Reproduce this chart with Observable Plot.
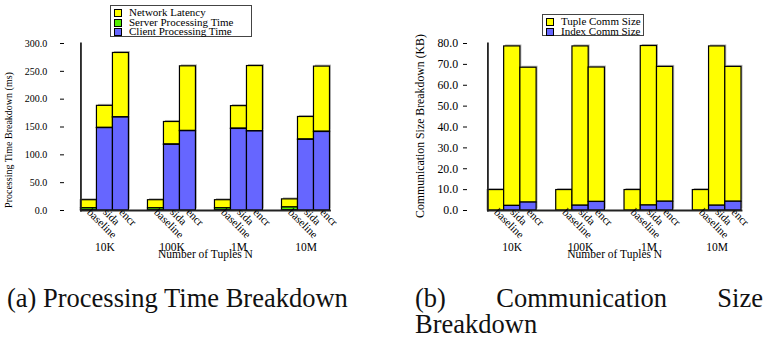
<!DOCTYPE html>
<html><head><meta charset="utf-8">
<script src="https://cdn.jsdelivr.net/npm/d3@7"></script>
<script src="https://cdn.jsdelivr.net/npm/@observablehq/plot@0.6"></script>
<style>
body{margin:0;background:#fff;font-family:"Liberation Serif","DejaVu Serif",serif;}
#wrap{position:relative;width:767px;height:338px;overflow:hidden;background:#fff;}
.panel{position:absolute;top:0;}
.legend{position:absolute;border:1px solid #444;background:#fff;font-size:11px;line-height:9.7px;color:#000;box-sizing:border-box;padding:2px 0 0 3px;}
.legend .row{display:flex;align-items:center;white-space:nowrap;height:9.7px}
.legend .sw{width:6px;height:6px;border:1px solid #000;margin-right:7px;flex:none}
.ylab{position:absolute;white-space:nowrap;color:#000;transform:translate(-50%,-50%) rotate(-90deg);line-height:1;}
.cap{position:absolute;font-size:26.5px;line-height:26px;color:#111;white-space:nowrap;}
.cap .line{display:flex;justify-content:space-between;height:26px;}
</style></head><body><div id="wrap"></div>
<script>
const groups = ["10K", "100K", "1M", "10M"];
const methods = ["baseline", "sida", "encr"];

// (a) processing time (ms), rows = groups, columns = methods
const timeSeries = ["Network Latency", "Server Processing Time", "Client Processing Time"];
const timeColors = ["#ffff00", "#55ee00", "#6666ff"];
const clientTime = [[0.5, 148, 167], [0.5, 118, 142.5], [0.5, 146.5, 142], [0.5, 127, 141]];
const serverTime = [[3.5, 0.4, 0.4], [3.5, 0.4, 0.4], [3.5, 0.4, 0.4], [5, 0.4, 0.4]];
const networkTime = [[14.5, 39.6, 115.6], [14.5, 40.6, 116.1], [14.5, 40.6, 117.1], [14.5, 40.6, 117.1]];
const timeTicks = [0, 50, 100, 150, 200, 250, 300];

// (b) communication size (KB)
const sizeSeries = ["Tuple Comm Size", "Index Comm Size"];
const sizeColors = ["#ffff00", "#6666ff"];
const indexSize = [[0, 2.2, 3.8], [0, 2.3, 4.1], [0, 2.4, 4.2], [0, 2.3, 4.2]];
const tupleSize = [[9.8, 76.4, 64.6], [9.8, 76.3, 64.4], [9.8, 76.4, 64.6], [9.8, 76.3, 64.6]];
const sizeTicks = [0, 10, 20, 30, 40, 50, 60, 70, 80];

const xTitle = "Number of Tuples N";
const captionA = [["(a) Processing Time Breakdown"]];
const captionB = [["(b)", "Communication", "Size"], ["Breakdown"]];
const serif = '"Liberation Serif", "DejaVu Serif", serif';

function tidy(names, arrays) {
  const rows = [];
  groups.forEach((g, i) => methods.forEach((m, j) => names.forEach((s, k) =>
    rows.push({group: g, method: m, series: s, value: arrays[k][i][j]}))));
  return rows;
}

function chart(o) {
  const stack = (extra) => Plot.stackY({fx: "group", x: "method", y: "value", z: "series", order: o.order, ...extra});
  // offset of the first facet band from the left edge of the frame (same math as the band scale)
  const range = o.width - o.marginLeft - o.marginRight;
  const n = groups.length;
  const step = range / (n - o.padIn + 2 * o.padOut);
  const firstBand = (range - step * (n - o.padIn)) * o.align;
  return Plot.plot({
    width: o.width, height: 265,
    marginLeft: o.marginLeft, marginRight: o.marginRight, marginTop: 43, marginBottom: 55,
    style: {fontFamily: serif, fontSize: "11px", color: "#000", background: "transparent", overflow: "visible"},
    fx: {domain: groups, paddingInner: o.padIn, paddingOuter: o.padOut, align: o.align, round: false, label: null},
    x: {domain: methods, padding: 0, round: false, label: null},
    y: {domain: o.yDomain, label: null},
    color: {domain: o.names, range: o.colors},
    marks: [
      Plot.barY(o.data, stack({fill: "#b5b5b5", dx: 1.5, dy: -1.5})),
      Plot.barY(o.data, stack({fill: "series", stroke: "#000", strokeWidth: 1.2})),
      Plot.frame({anchor: "bottom", facet: "super", stroke: "#222", strokeWidth: 1.8}),
      Plot.frame({anchor: "left", facet: "super", stroke: "#222", strokeWidth: 1.8}),
      Plot.axisY({ticks: o.ticks, tickFormat: d3.format(".1f"), tickSize: -4, tickPadding: o.tickPadding,
        fontSize: o.tickFont, dx: -firstBand, label: null}),
      Plot.axisX({tickRotate: 45, tickSize: 0, tickPadding: 0, fontSize: 11.2, label: null}),
      Plot.axisFx({anchor: "bottom", tickSize: 0, tickPadding: 32, fontSize: 11.5, label: null}),
      Plot.text([xTitle], {facet: "super", text: d => d, frameAnchor: "bottom", dy: 47.5, fontSize: 11.5})
    ]
  });
}

function legend(names, colors, style) {
  const div = document.createElement("div");
  div.className = "legend";
  Object.assign(div.style, style);
  names.forEach((n, i) => {
    const row = document.createElement("div");
    row.className = "row";
    const sw = document.createElement("span");
    sw.className = "sw";
    sw.style.background = colors[i];
    const t = document.createElement("span");
    t.textContent = n;
    row.append(sw, t);
    div.append(row);
  });
  return div;
}

function yLabel(text, style) {
  const d = document.createElement("div");
  d.className = "ylab";
  d.textContent = text;
  Object.assign(d.style, style);
  return d;
}

function caption(lines, style) {
  const d = document.createElement("div");
  d.className = "cap";
  Object.assign(d.style, style);
  lines.forEach(words => {
    const line = document.createElement("div");
    line.className = "line";
    words.forEach(w => {
      const s = document.createElement("span");
      s.textContent = w;
      line.append(s);
    });
    if (words.length === 1) line.style.justifyContent = "flex-start";
    d.append(line);
  });
  return d;
}

const wrap = document.getElementById("wrap");

const left = chart({
  data: tidy(timeSeries, [networkTime, serverTime, clientTime]),
  width: 380, marginLeft: 60, marginRight: 27,
  padIn: 0.284, padOut: 0.328, align: 0.465,
  yDomain: [0, 300], ticks: timeTicks, names: timeSeries, colors: timeColors,
  order: ["Client Processing Time", "Server Processing Time", "Network Latency"],
  tickPadding: 17.3, tickFont: 10
});
left.classList.add("panel");
left.style.left = "0px";
wrap.append(left);

const right = chart({
  data: tidy(sizeSeries, [tupleSize, indexSize]),
  width: 387, marginLeft: 83, marginRight: 6,
  padIn: 0.287, padOut: 0.325, align: 0.55,
  yDomain: [0, 80], ticks: sizeTicks, names: sizeSeries, colors: sizeColors,
  order: ["Index Comm Size", "Tuple Comm Size"],
  tickPadding: 9.4, tickFont: 11.8
});
right.classList.add("panel");
right.style.left = "380px";
wrap.append(right);

wrap.append(yLabel("Processing Time Breakdown (ms)", {left: "9px", top: "140px", fontSize: "10px"}));
wrap.append(yLabel("Communication Size Breakdown (KB)", {left: "421px", top: "126px", fontSize: "11.8px"}));

wrap.append(legend(timeSeries, timeColors, {left: "110px", top: "5px", width: "142px", height: "32px"}));
wrap.append(legend(sizeSeries, sizeColors, {left: "542px", top: "14px", width: "102px", height: "22px"}));

wrap.append(caption(captionA, {left: "7px", top: "285px", width: "347px"}));
wrap.append(caption(captionB, {left: "415px", top: "285px", width: "348px"}));
</script></body></html>
